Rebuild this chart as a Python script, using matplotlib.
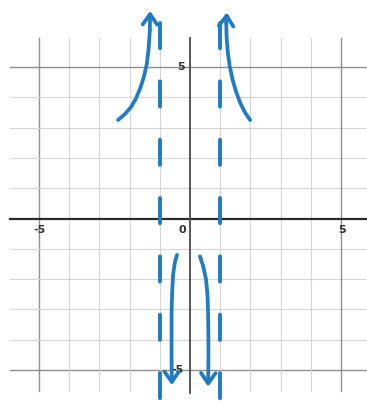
import matplotlib
matplotlib.use("Agg")
import matplotlib.pyplot as plt

# Vertical asymptotes
asymptotes = [-1, 1]

# Hand-sketched branches (x, y), ending at the arrow tip
upper_left_x = [-2.38, -2.15, -1.95, -1.78, -1.64, -1.52, -1.43, -1.37, -1.33, -1.32]
upper_left_y = [3.25, 3.45, 3.68, 3.98, 4.32, 4.70, 5.10, 5.60, 6.20, 6.85]

upper_right_x = [1.99, 1.82, 1.66, 1.52, 1.40, 1.31, 1.25, 1.21, 1.20, 1.22]
upper_right_y = [3.25, 3.50, 3.82, 4.20, 4.62, 5.05, 5.50, 6.00, 6.45, 6.80]

lower_left_x = [-0.43, -0.50, -0.56, -0.59, -0.61, -0.61, -0.61, -0.60]
lower_left_y = [-1.20, -1.45, -1.85, -2.40, -3.10, -3.90, -4.70, -5.50]

lower_right_x = [0.33, 0.43, 0.53, 0.58, 0.60, 0.61, 0.61, 0.60]
lower_right_y = [-1.25, -1.55, -2.00, -2.55, -3.15, -3.95, -4.75, -5.55]

tick_values = [-5, 0, 5]
tick_labels = ["-5", "0", "5"]

BLUE = "#1f7cc4"

fig = plt.figure(figsize=(3.67, 4.07), dpi=100)
ax = fig.add_axes([0, 0, 1, 1])
ax.set_xlim(-6.29, 5.86)
ax.set_ylim(-6.22, 7.21)
ax.axis("off")

# Graph paper grid
for v in range(-5, 6):
    strong = abs(v) == 5
    col = "#8f8f8f" if strong else "#d6d6d6"
    lw = 1.0 if strong else 0.8
    if v != 0:
        ax.plot([v, v], [-5.7, 5.96], color=col, lw=lw, zorder=1)
        ax.plot([-5.96, 6.0], [v, v], color=col, lw=lw, zorder=1)

# Axes
ax.plot([-5.96, 6.0], [0, 0], color="#2b2b2b", lw=1.6, zorder=2)
ax.plot([0, 0], [-5.75, 5.96], color="#4a4a4a", lw=1.3, zorder=2)

# Tick labels
lab_kw = dict(fontsize=8, color="#333333", fontweight="bold", ha="center", va="center", zorder=3)
for v, t in zip(tick_values, tick_labels):
    if v == 0:
        ax.text(-0.27, -0.38, t, **lab_kw)
    else:
        ax.text(v + 0.03, -0.38, t, **lab_kw)
        ax.text(-0.3 - (0.1 if v < 0 else 0), v, t, **lab_kw)

# Dashed asymptotes
for a in asymptotes:
    ax.plot([a, a], [6.45, -6.3], color=BLUE, lw=2.8, linestyle=(0, (6.5, 8.5)),
            solid_capstyle="round", dash_capstyle="round", zorder=4)

# Branches with arrowheads
for xs, ys in [(upper_left_x, upper_left_y), (upper_right_x, upper_right_y),
               (lower_left_x, lower_left_y), (lower_right_x, lower_right_y)]:
    ax.plot(xs[:-1], ys[:-1], color=BLUE, lw=2.7, solid_capstyle="round",
            solid_joinstyle="round", zorder=5)
    ax.annotate("", xy=(xs[-1], ys[-1]), xytext=(xs[-2], ys[-2]),
                arrowprops=dict(arrowstyle="->,head_length=0.5,head_width=0.35",
                                color=BLUE, lw=2.7, shrinkA=0, shrinkB=0,
                                mutation_scale=15),
                zorder=5)

fig.savefig("out.png", dpi=100)
